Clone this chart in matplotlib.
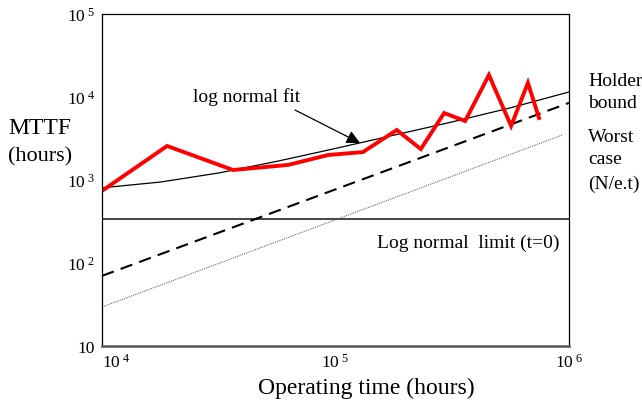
import matplotlib
matplotlib.use("Agg")
import matplotlib.pyplot as plt

plt.rcParams["font.family"] = ["Liberation Serif", "DejaVu Serif"]
plt.rcParams["mathtext.fontset"] = "custom"
plt.rcParams["mathtext.rm"] = "Liberation Serif"
plt.rcParams["mathtext.it"] = "Liberation Serif:italic"

# measured MTTF data (red line)
data_t = [1.0e4, 1.9e4, 3.64e4, 6.27e4, 9.3e4, 1.31e5, 1.83e5, 2.32e5,
          2.92e5, 3.59e5, 4.54e5, 5.65e5, 6.67e5, 7.44e5]
data_mttf = [740, 2570, 1320, 1520, 2000, 2170, 4000, 2360,
             6410, 5140, 18400, 4480, 14800, 5590]

# log normal fit curve
fit_t = [1e4, 1.78e4, 3.16e4, 5.62e4, 1e5, 1.78e5, 3.16e5, 5.62e5, 1e6]
fit_mttf = [805, 945, 1215, 1680, 2400, 3470, 5010, 7410, 11500]

# Holder bound (dashed) and worst case (dotted)
holder_t = [1e4, 1e6]
holder_mttf = [70, 8500]
worst_t = [1e4, 9.4e5]
worst_mttf = [29.5, 3500]

# log normal limit (t=0)
limit_mttf = 340

xticks = [1e4, 1e5, 1e6]
xtick_labels = [r"$\mathrm{10}^{\ \mathrm{4}}$", r"$\mathrm{10}^{\ \mathrm{5}}$",
                r"$\mathrm{10}^{\ \mathrm{6}}$"]
yticks = [10, 1e2, 1e3, 1e4, 1e5]
ytick_labels = ["10", r"$\mathrm{10}^{\ \mathrm{2}}$", r"$\mathrm{10}^{\ \mathrm{3}}$",
                r"$\mathrm{10}^{\ \mathrm{4}}$", r"$\mathrm{10}^{\ \mathrm{5}}$"]

W, H = 642, 402
fig = plt.figure(figsize=(W / 100, H / 100), dpi=100)
ax = fig.add_axes([102 / W, 1 - 347 / H, (569 - 102) / W, (347 - 15) / H])

ax.set_xscale("log")
ax.set_yscale("log")
ax.set_xlim(1e4, 1e6)
ax.set_ylim(10, 1e5)

ax.axhline(limit_mttf, color="#444444", lw=1.4)
ax.plot(worst_t, worst_mttf, color="#555555", lw=0.7, linestyle=(0, (1, 1)))
ax.plot(holder_t, holder_mttf, color="black", lw=1.5, linestyle=(0, (6, 3.5)))
ax.plot(fit_t, fit_mttf, color="black", lw=0.9)
ax.plot(data_t, data_mttf, color="#ff0000", lw=2.8, solid_joinstyle="miter")

ax.set_xticks(xticks)
ax.set_xticklabels(xtick_labels, fontsize=12.5)
ax.set_yticks(yticks)
ax.set_yticklabels(ytick_labels, fontsize=12.5)
ax.minorticks_off()
ax.tick_params(length=0, pad=5)
ax.xaxis.get_ticklabels()[0].set_horizontalalignment("left")

for s in ["top", "right", "left"]:
    ax.spines[s].set_linewidth(0.9)
ax.spines["bottom"].set_linewidth(1.8)
ax.spines["bottom"].set_color("#555555")


def ftext(px, py, s, **kw):
    fig.text(px / W, 1 - py / H, s, va="center", **kw)


ftext(8, 128, "MTTF", fontsize=17)
ftext(8, 157, "(hours)", fontsize=16)
ftext(366, 388, "Operating time (hours)", fontsize=17, ha="center")
ftext(193, 97, "log normal fit", fontsize=14)
ftext(377, 243, "Log normal  limit (t=0)", fontsize=14)
ftext(588, 82, "Holder", fontsize=14)
ftext(588, 104, "bound", fontsize=14)
ftext(588, 138, "Worst", fontsize=14)
ftext(588, 160, "case", fontsize=14)
ftext(588, 184, "(N/e.t)", fontsize=14)

ax.annotate("", xy=(360, H - 144), xytext=(295, H - 111),
            xycoords="figure pixels", textcoords="figure pixels",
            arrowprops=dict(arrowstyle="-|>", color="black", lw=0.9,
                            mutation_scale=20, shrinkA=0, shrinkB=0))

fig.savefig("out.png", dpi=100)
